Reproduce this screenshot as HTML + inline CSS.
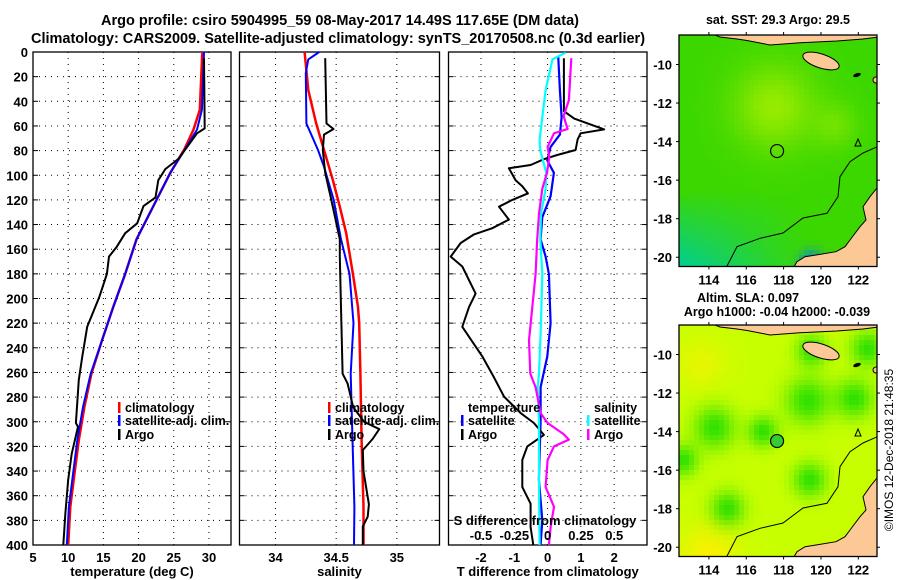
<!DOCTYPE html>
<html><head><meta charset="utf-8"><style>
body{margin:0;background:#fff;}
svg{display:block;font-family:"Liberation Sans",Arial,sans-serif;font-weight:bold;}
</style></head><body>
<svg id="c" width="900" height="580" viewBox="0 0 900 580">
<rect width="900" height="580" fill="#fff"/>
<text x="340" y="25" font-size="14.5" text-anchor="middle">Argo profile: csiro 5904995_59 08-May-2017 14.49S 117.65E (DM data)</text>
<text x="338" y="43" font-size="14.5" text-anchor="middle">Climatology: CARS2009. Satellite-adjusted climatology: synTS_20170508.nc (0.3d earlier)</text>
<g id="g"></g>
<text transform="translate(893,450) rotate(-90)" font-size="12" font-weight="normal" text-anchor="middle">©IMOS 12-Dec-2018 21:48:35</text>
</svg>
<script>
// ---------- data ----------
var tClimDepth=[0,47,63,79,98,125,152,180,207,234,261,288,315,342,369,400];
var tClimVal=[29.05,28.7,27.8,26.5,24.5,22.1,19.7,18.1,16.4,14.8,13.3,12.3,11.5,10.9,10.3,10.0];
var tSatDepth=[0,47,63,79,98,125,152,180,207,234,261,288,315,342,369,400];
var tSatVal=[29.3,29.0,28.3,26.6,24.5,22.1,19.7,18.1,16.4,14.8,13.2,12.1,11.3,10.7,10.1,9.8];
var tArgoDepth=[5,62,66,73,86.5,95,104,118,125,139,147,158,166,180,199,223,247,266,301,304,326,347,374,400];
var tArgoVal=[29.3,29.4,28.3,27.4,25.7,23.8,22.8,22.4,20.7,19.8,18.1,16.9,15.8,15.5,14.4,12.7,12.0,11.5,11.1,11.4,10.5,10.0,9.6,9.3];
var sClimDepth=[0,31,58,79.5,104,125.5,147,180,207,220,261,315,369,400];
var sClimVal=[34.24,34.27,34.335,34.40,34.473,34.53,34.583,34.638,34.68,34.69,34.70,34.71,34.725,34.725];
var sSatDepth=[0,6,17,58,79.5,93,120,152,180,220,261,315,369,400];
var sSatVal=[34.36,34.27,34.25,34.255,34.35,34.40,34.48,34.54,34.61,34.643,34.62,34.635,34.65,34.647];
var sArgoDepth=[5,58,62.5,67,79.5,98,120,152,166,207,261,269,288,300,306,314,323,340,367,377,385,400];
var sArgoVal=[34.41,34.42,34.478,34.40,34.39,34.41,34.46,34.53,34.53,34.54,34.553,34.594,34.64,34.73,34.856,34.80,34.72,34.725,34.77,34.76,34.72,34.72];
var dtArgoDepth=[5,48,54,62.8,66,71,79.5,83.6,87,91.7,94.4,104,109,114.7,120,125.5,136,143,148,155,166,174,196,207,223,247,264,279.6,293,301,310.7,320,331,353,366.5,385.5,400];
var dtArgoVal=[0.49,0.49,0.8,1.7,0.99,0.9,0.84,0.29,-0.11,-0.51,-1.16,-0.96,-0.76,-0.59,-1.06,-1.46,-1.16,-1.66,-2.21,-2.61,-2.91,-2.56,-2.16,-2.36,-2.56,-1.96,-1.61,-1.31,-0.81,-0.41,-0.11,-0.61,-0.76,-0.76,-0.51,-0.51,-0.43];
var dtSatDepth=[3,31,53,67,77,88,98,117,134,152,166,180,220,247,272,300,347,380,400];
var dtSatVal=[0.32,0.37,0.42,0.37,0.09,-0.01,0.19,0.09,-0.16,-0.21,-0.06,0.04,0.09,-0.01,-0.21,-0.21,-0.26,-0.16,-0.21];
var dsSatDepth=[0.6,6,31,71,80,98,111,131,152,180,220,261,272,300,350,400];
var dsSatVal=[0.135,0.037,-0.015,-0.06,-0.055,-0.01,-0.015,-0.05,-0.055,-0.04,-0.05,-0.065,-0.075,-0.065,-0.065,-0.06];
var dsArgoDepth=[5,39,52,62.5,66,77,85,98,111,131,152,180,207,234,261,272,293,301,310,314.5,320,331,353,369,385,400];
var dsArgoVal=[0.178,0.16,0.12,0.15,0.048,0,0.013,-0.005,-0.04,-0.065,-0.078,-0.09,-0.115,-0.14,-0.13,-0.09,-0.053,0,0.12,0.16,0.048,0,-0.015,0.048,0.023,0.01];
var depthTicks=[0,20,40,60,80,100,120,140,160,180,200,220,240,260,280,300,320,340,360,380,400];
var tTicks=[5,10,15,20,25,30];
var sTicks=[34,34.5,35];
var dtTicks=[-2,-1,0,1,2];
var dsTicks=[-0.5,-0.25,0,0.25,0.5];
var dsTickLabels=["-0.5","-0.25","0","0.25","0.5"];
var lonTicks=[114,116,118,120,122];
var latTicks=[-10,-12,-14,-16,-18,-20];
var argoLon=117.65, argoLat=-14.49;

var NS="http://www.w3.org/2000/svg";
var G=document.getElementById('g');
function mk(tag,attrs,parent){var e=document.createElementNS(NS,tag);for(var k in attrs)e.setAttribute(k,attrs[k]);(parent||G).appendChild(e);return e;}
function txt(x,y,s,size,anchor,parent){var t=mk('text',{x:x,y:y,'font-size':size,'text-anchor':anchor||'middle'},parent);t.textContent=s;return t;}

var Y0=52,Y1=545;
function yD(d){return Y0+(d/400)*(Y1-Y0);}
var panels=[
 {name:'temperature',x0:33,x1:231,v0:5,v1:33.13,ticks:tTicks,labels:tTicks.map(String),xlabel:'temperature (deg C)'},
 {name:'salinity',x0:239.5,x1:439.5,v0:33.703,v1:35.352,ticks:sTicks,labels:["34","34.5","35"],xlabel:'salinity'},
 {name:'difference',x0:448.5,x1:647,v0:-2.975,v1:2.985,ticks:dtTicks,labels:dtTicks.map(String),xlabel:'T difference from climatology'}
];
function xS(p,v){return p.x0+(v-p.v0)/(p.v1-p.v0)*(p.x1-p.x0);}
var sPanel={x0:448.5,x1:647,v0:-0.744,v1:0.746};

panels.forEach(function(p,i){
  var g=mk('g',{});
  
  
  depthTicks.forEach(function(d){
    if(d>0&&d<400){var l=mk('line',{x1:p.x0,x2:p.x1,y1:yD(d),y2:yD(d),stroke:'#000','stroke-width':1,'stroke-dasharray':'1,5'},g);
      }
    mk('line',{x1:p.x0,x2:p.x0+5,y1:yD(d),y2:yD(d),stroke:'#000'},g);
    mk('line',{x1:p.x1-5,x2:p.x1,y1:yD(d),y2:yD(d),stroke:'#000'},g);
  });
  p.ticks.forEach(function(v,k){
    var x=xS(p,v);
    var l=mk('line',{x1:x,x2:x,y1:Y0,y2:Y1,stroke:'#000','stroke-width':1,'stroke-dasharray':'1,5'},g);
    
    var t=txt(x,562,p.labels[k],13,'middle',g);
    
  });
  var xl=txt((p.x0+p.x1)/2,576,p.xlabel,13,'middle',g);
  
  var fr=mk('rect',{x:p.x0,y:Y0,width:p.x1-p.x0,height:Y1-Y0,fill:'none',stroke:'#000','stroke-width':1.3},g);
  
});
depthTicks.forEach(function(d){
  var t=txt(28,yD(d)+5,String(d),13,'end');
  
});
function line(p,vals,deps,color,w,name,scale){
  var pts=vals.map(function(v,i){return (scale?scale(v):xS(p,v)).toFixed(1)+','+yD(deps[i]).toFixed(1);}).join(' ');
  var e=mk('polyline',{points:pts,fill:'none',stroke:color,'stroke-width':w,'stroke-linejoin':'round'});
  
  
}
function sx(v){return sPanel.x0+(v-sPanel.v0)/(sPanel.v1-sPanel.v0)*(sPanel.x1-sPanel.x0);}
line(panels[0],tClimVal,tClimDepth,'#f00',2.5,'temperature-climatology-line');
line(panels[0],tSatVal,tSatDepth,'#00f',2,'temperature-satellite-line');
line(panels[0],tArgoVal,tArgoDepth,'#000',2,'temperature-argo-line');
line(panels[1],sClimVal,sClimDepth,'#f00',2.5,'salinity-climatology-line');
line(panels[1],sSatVal,sSatDepth,'#00f',2,'salinity-satellite-line');
line(panels[1],sArgoVal,sArgoDepth,'#000',2,'salinity-argo-line');
line(panels[2],dtSatVal,dtSatDepth,'#00f',2.2,'t-diff-satellite-line');
line(panels[2],dtArgoVal,dtArgoDepth,'#000',2,'t-diff-argo-line');
line(null,dsSatVal,dsSatDepth,'#0ff',2.2,'s-diff-satellite-line',sx);
line(null,dsArgoVal,dsArgoDepth,'#f0f',2.2,'s-diff-argo-line',sx);

var sl=txt(545,525,'S difference from climatology',13,'middle');

dsTicks.forEach(function(v,k){var t=txt(sx(v),540,dsTickLabels[k],13,'middle');
  });

function legend(x,y,label,color,name){
  var g=mk('g',{});
  
  
  mk('rect',{x:x-7,y:y-10,width:2.5,height:11,fill:color},g);
  txt(x,y,label,12.5,'start',g);
}
legend(125,412,'climatology','#f00','legend-entry-climatology');
legend(125,425,'satellite-adj. clim.','#00f','legend-entry-satellite');
legend(125,439,'Argo','#000','legend-entry-argo');
legend(335,412,'climatology','#f00','legend-entry-climatology');
legend(335,425,'satellite-adj. clim.','#00f','legend-entry-satellite');
legend(335,439,'Argo','#000','legend-entry-argo');
var lt=txt(468,412,'temperature',12.5,'start');
legend(468,425,'satellite','#00f','legend-entry-t-satellite');
legend(468,439,'Argo','#000','legend-entry-t-argo');
var ls=txt(594,412,'salinity',12.5,'start');
legend(594,425,'satellite','#0ff','legend-entry-s-satellite');
legend(594,439,'Argo','#f0f','legend-entry-s-argo');

// ---------- maps ----------
var MX0=679,MX1=877,LON0=112.4,LON1=123;
function mxL(lon){return MX0+(lon-LON0)/(LON1-LON0)*(MX1-MX0);}
function hex(r,g,b){return 'rgb('+Math.round(r)+','+Math.round(g)+','+Math.round(b)+')';}
function gauss(lon,lat,cl,ca,s){var a=(lon-cl)/s,b=(lat-ca)/s;return Math.exp(-(a*a+b*b));}
function sstColor(lon,lat){
  var warm=gauss(lon,lat,117.5,-12.2,2.2)+0.5*gauss(lon,lat,120.8,-13.2,1.2);
  var cool=Math.max(0,(-lat-16.5)/4)*Math.max(0,1-(lon-112.4)/7);
  var r=60+90*Math.min(1,warm)-60*cool, g=215+20*warm-10*cool, b=0+150*cool;
  var coast=gauss(lon,lat,119.5,-20.3,0.6);
  r-=r*coast;g-=100*coast;b+=255*coast;
  return hex(Math.max(0,r),Math.min(255,g),Math.min(255,b));
}
var slaBlobs=[[114.3,-13.8,1.1],[119.3,-12.4,1.2],[116.9,-14.0,0.8],[119.4,-16.5,0.9],[115.0,-18.0,0.9],[112.6,-15.5,0.8],[121.8,-12.3,1.0],[122.5,-9.7,0.9],[119.5,-9.8,0.8]];
function slaColor(lon,lat){
  var gsum=0;slaBlobs.forEach(function(b){gsum+=gauss(lon,lat,b[0],b[1],b[2]);});
  gsum=Math.min(1,gsum);
  var y=gauss(lon,lat,114,-20.5,1.6)+0.6*gauss(lon,lat,113.6,-10.5,1.3);
  var r=200-150*gsum+50*y, g=255-30*gsum-15*y, b=0;
  return hex(Math.min(255,r),g,b);
}
var defs=mk('defs',{});
function drawMap(top,title,colorFn,name,dotFill){
  var MY0=top,MY1=top+231.5;
  function myL(lat){return MY0+(-8.47-lat)/(20.48-8.47)*(MY1-MY0);}
  var cp=mk('clipPath',{id:'clip'+top},defs);
  mk('rect',{x:MX0,y:MY0,width:MX1-MX0,height:MY1-MY0},cp);
  var g=mk('g',{});
  
  
  var gi=mk('g',{'clip-path':'url(#clip'+top+')'},g);
  var step=5;
  for(var y=MY0;y<MY1;y+=step){for(var x=MX0;x<MX1;x+=step){
    var lon=LON0+(x+step/2-MX0)/(MX1-MX0)*(LON1-LON0);
    var lat=-8.47-(y+step/2-MY0)/(MY1-MY0)*(20.48-8.47);
    mk('rect',{x:x,y:y,width:step+0.3,height:step+0.3,fill:colorFn(lon,lat)},gi);
  }}
  var land='#fbc896';
  var o=top-35;
  mk('path',{d:'M'+(MX1+2)+' '+(188+o)+' L877 '+(188+o)+' L870 '+(196.7+o)+' L863 '+(206.7+o)+' L866 '+(220+o)+' L860 '+(226.7+o)+' L850 '+(240+o)+' L845 '+(246.7+o)+' L836 '+(251.7+o)+' L816 '+(255+o)+' L805 '+(256.7+o)+' L797 '+(261.7+o)+' L793 '+(MY1+2)+' L'+(MX1+2)+' '+(MY1+2)+' Z',fill:land,stroke:'#000','stroke-width':1},gi);
  mk('path',{d:'M710 '+(33+o)+' L'+(MX1+2)+' '+(33+o)+' L'+(MX1+2)+' '+(37+o)+' L863 '+(39+o)+' L837 '+(41+o)+' L800 '+(42.7+o)+' L770 '+(45+o)+' L760 '+(43+o)+' L747 '+(40.5+o)+' L737 '+(39+o)+' L720 '+(37+o)+' Z',fill:land,stroke:'#000','stroke-width':1},gi);
  mk('ellipse',{cx:821,cy:61+o,rx:19,ry:7,fill:land,stroke:'#000','stroke-width':1,transform:'rotate(18 821 '+(61+o)+')'},gi);
  mk('ellipse',{cx:857,cy:75+o,rx:4,ry:1.8,fill:'#000',transform:'rotate(-20 857 '+(75+o)+')'},gi);
  mk('ellipse',{cx:876,cy:80+o,rx:3,ry:3,fill:land,stroke:'#000'},gi);
  mk('path',{d:'M855 '+(146+o)+' l3 -7 l3 7 z',fill:'none',stroke:'#000'},gi);
  mk('polyline',{points:'726,'+(268+o)+' 737,'+(246.7+o)+' 760,'+(238.3+o)+' 783,'+(233+o)+' 803,'+(218+o)+' 827,'+(213.3+o)+' 838,'+(196.7+o)+' 840,'+(176.7+o)+' 850,'+(161.7+o)+' 863,'+(153+o)+' 879,'+(146+o),fill:'none',stroke:'#000','stroke-width':1},gi);
  var dot=mk('circle',{cx:mxL(argoLon),cy:myL(argoLat),r:6.5,fill:dotFill,stroke:'#000','stroke-width':1.2},g);
  
  
  mk('rect',{x:MX0,y:MY0,width:MX1-MX0,height:MY1-MY0,fill:'none',stroke:'#000','stroke-width':1.3},g);
  lonTicks.forEach(function(v){var x=mxL(v);
    mk('line',{x1:x,x2:x,y1:MY0-3,y2:MY0,stroke:'#000'},g);mk('line',{x1:x,x2:x,y1:MY1,y2:MY1+3,stroke:'#000'},g);
    var t=txt(x,MY1+18,String(v),13,'middle',g);});
  latTicks.forEach(function(v){var y=myL(v);
    mk('line',{x1:MX0-3,x2:MX0,y1:y,y2:y,stroke:'#000'},g);mk('line',{x1:MX1,x2:MX1+3,y1:y,y2:y,stroke:'#000'},g);
    var t=txt(672,y+5,String(v),13,'end',g);});
  title.forEach(function(tt){var t=txt(tt[0],tt[1],tt[2],12.5,'middle',g);});
}
drawMap(35,[[778,24,'sat. SST: 29.3 Argo: 29.5']],sstColor,'sst-map','none');
drawMap(325,[[748,302,'Altim. SLA: 0.097'],[777,316,'Argo h1000: -0.04 h2000: -0.039']],slaColor,'sla-map','#33cc33');
</script>
</body></html>
